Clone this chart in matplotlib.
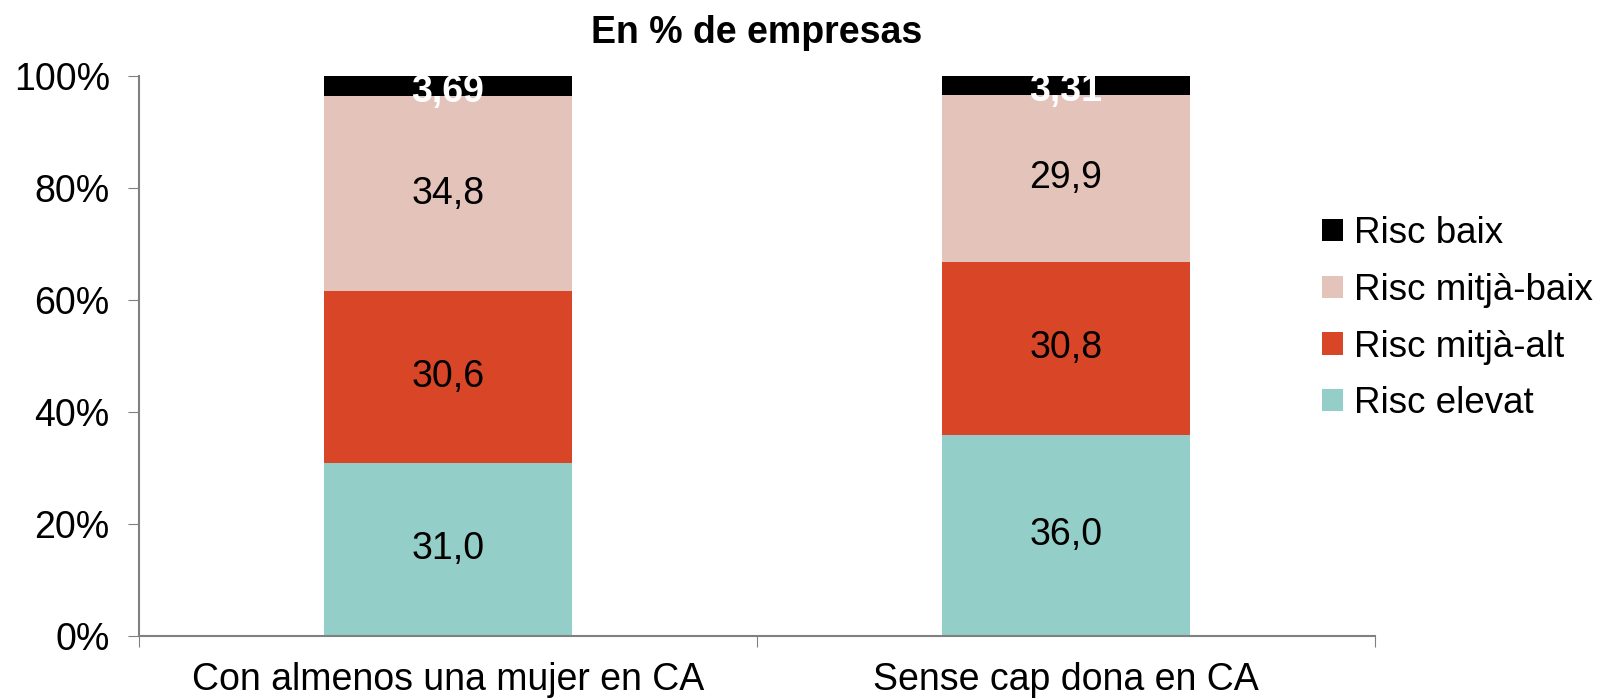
import numpy as np
import matplotlib
matplotlib.use("Agg")
import matplotlib.pyplot as plt
from matplotlib.patches import Patch

plt.rcParams['font.family'] = ['Liberation Sans', 'DejaVu Sans']

categories = ["Con almenos una mujer en CA", "Sense cap dona en CA"]
series_names = ["Risc elevat", "Risc mitjà-alt", "Risc mitjà-baix", "Risc baix"]
risc_elevat = [31.0, 36.0]
risc_mitja_alt = [30.6, 30.8]
risc_mitja_baix = [34.8, 29.9]
risc_baix = [3.69, 3.31]
labels_elevat = ["31,0", "36,0"]
labels_mitja_alt = ["30,6", "30,8"]
labels_mitja_baix = ["34,8", "29,9"]
labels_baix = ["3,69", "3,31"]

colors = ["#93cfc8", "#d94527", "#e4c3ba", "#000000"]
text_colors = ["black", "black", "black", "white"]

fig = plt.figure(figsize=(15.97, 6.99), dpi=100)
ax = fig.add_axes([0.087, 0.090, 0.774, 0.801])

x = np.arange(len(categories))
bottom = np.zeros(len(categories))
all_vals = [risc_elevat, risc_mitja_alt, risc_mitja_baix, risc_baix]
all_labels = [labels_elevat, labels_mitja_alt, labels_mitja_baix, labels_baix]
for vals, labs, col, tc in zip(all_vals, all_labels, colors, text_colors):
    vals = np.array(vals)
    ax.bar(x, vals, bottom=bottom, width=0.4, color=col, zorder=2)
    for xi, b, v, lab in zip(x, bottom, vals, labs):
        weight = "bold" if tc == "white" else "normal"
        ax.text(xi, min(b + v / 2, 99.2) - (1.0 if tc == "white" else 0), lab,
                ha="center", va="center", fontsize=27, color=tc, fontweight=weight, zorder=3)
    bottom += vals

ax.set_xlim(-0.5, 1.5)
ax.set_ylim(0, 100)
ax.set_yticks(np.arange(0, 101, 20))
ax.set_yticklabels([f"{v}%" for v in range(0, 101, 20)], fontsize=27)
ax.set_xticks([-0.5, 0.5, 1.5], minor=False)
ax.set_xticklabels([])
ax.set_xticks(x, minor=True)
ax.set_xticklabels(categories, minor=True, fontsize=27)
ax.tick_params(axis="x", which="minor", length=0, pad=19)
ax.tick_params(axis="x", which="major", length=8, direction="out", color="#808080")
ax.tick_params(axis="y", length=8, direction="out", color="#808080", pad=13)
for s in ["top", "right"]:
    ax.spines[s].set_visible(False)
for s in ["left", "bottom"]:
    ax.spines[s].set_color("#808080")
    ax.spines[s].set_linewidth(1.5)

ax.set_title("En % de empresas", fontsize=27, fontweight="bold", pad=24)

handles = [Patch(facecolor=c) for c in colors[::-1]]
fig.legend(handles, series_names[::-1], loc="center left", bbox_to_anchor=(0.828, 0.544),
           frameon=False, fontsize=26.5, handlelength=0.55, handleheight=0.55,
           handletextpad=0.3, labelspacing=0.59, borderaxespad=0, borderpad=0)

fig.savefig("out.png", dpi=100)
